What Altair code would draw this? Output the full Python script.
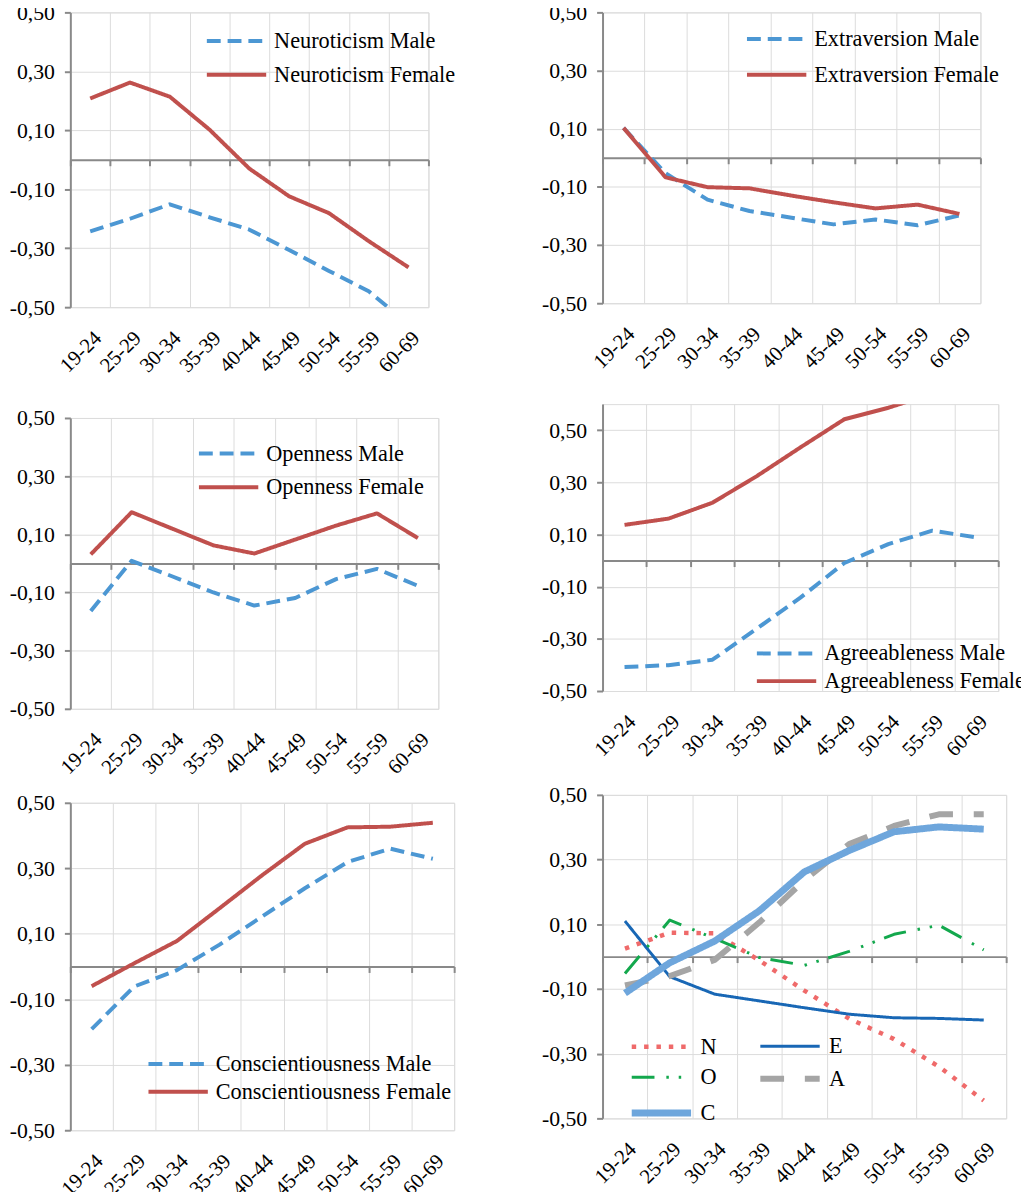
import altair as alt
import pandas as pd

ages = ["19-24", "25-29", "30-34", "35-39", "40-44", "45-49", "50-54", "55-59", "60-69"]

neuro_male = [-0.243, -0.200, -0.151, -0.195, -0.237, -0.306, -0.377, -0.446, -0.558]
neuro_female = [0.208, 0.262, 0.214, 0.102, -0.030, -0.124, -0.181, -0.276, -0.365]
extra_male = [0.103, -0.053, -0.144, -0.183, -0.206, -0.229, -0.212, -0.232, -0.198]
extra_female = [0.103, -0.067, -0.101, -0.105, -0.130, -0.153, -0.174, -0.161, -0.193]
open_male = [-0.164, 0.009, -0.045, -0.100, -0.145, -0.119, -0.054, -0.019, -0.077]
open_female = [0.031, 0.176, 0.119, 0.062, 0.034, 0.082, 0.130, 0.172, 0.087]
agree_male = [-0.408, -0.401, -0.380, -0.262, -0.142, -0.009, 0.063, 0.115, 0.089]
agree_female = [0.137, 0.161, 0.222, 0.323, 0.434, 0.542, 0.586, 0.640, 0.630]
consc_male = [-0.191, -0.061, -0.011, 0.067, 0.153, 0.239, 0.319, 0.360, 0.329]
consc_female = [-0.060, 0.010, 0.078, 0.178, 0.279, 0.375, 0.425, 0.427, 0.439]

all_N = [0.025, 0.074, 0.072, -0.012, -0.105, -0.192, -0.255, -0.340, -0.445]
all_E = [0.110, -0.062, -0.116, -0.137, -0.158, -0.178, -0.189, -0.191, -0.196]
all_O = [-0.052, 0.113, 0.056, -0.003, -0.027, 0.016, 0.069, 0.097, 0.021]
all_A = [-0.089, -0.060, -0.010, 0.106, 0.236, 0.348, 0.404, 0.440, 0.440]
all_C = [-0.113, -0.019, 0.048, 0.142, 0.262, 0.328, 0.386, 0.401, 0.394]

tick_values = [-0.5, -0.3, -0.1, 0.1, 0.3, 0.5]

FONT = "Liberation Serif"
AXIS_GRAY = "#898989"
GRID_GRAY = "#DCDCDC"
MALE = "#4C97D3"
FEMALE = "#C0504D"
MALE_DASH = [14, 7]
SOLID = [1, 0]


def long_df(names, series):
    rows = []
    for name, vals in zip(names, series):
        for a, v in zip(ages, vals):
            rows.append({"age": a, "series": name, "value": v})
    return pd.DataFrame(rows)


def panel(names, series, colors, dashes, width, height, lx, ly, row_pad,
          ymax=0.5, widths=None, columns=1, col_pad=10):
    df = long_df(names, series)
    below = height * 0.5 / (ymax + 0.5)
    legend = alt.Legend(
        title=None, orient="none", legendX=lx, legendY=ly,
        direction="horizontal" if columns > 1 else "vertical",
        symbolType="M-3,0H3", symbolSize=400, symbolStrokeWidth=4,
        labelFont=FONT, labelFontSize=22.5, labelColor="black", labelOffset=26,
        labelLimit=400, rowPadding=row_pad, columns=columns,
        columnPadding=col_pad, padding=0,
    )
    x = alt.X(
        "age:N", sort=ages, title=None, bandPosition=0.5,
        scale=alt.Scale(type="band", paddingInner=0, paddingOuter=0),
        axis=alt.Axis(
            orient="bottom", offset=-below, tickBand="extent",
            grid=True, gridColor=GRID_GRAY, gridWidth=1,
            domainColor=AXIS_GRAY, domainWidth=2,
            ticks=True, tickColor=AXIS_GRAY, tickWidth=2, tickSize=6,
            labelAngle=-45, labelAlign="right", labelBaseline="top",
            labelPadding=below + 20 - 6, labelFont=FONT, labelFontSize=21,
            labelColor="black", labelOverlap=False,
        ),
    )
    y = alt.Y(
        "value:Q", title=None,
        scale=alt.Scale(domain=[-0.5, ymax], nice=False, zero=False),
        axis=alt.Axis(
            values=tick_values,
            labelExpr="(datum.value < 0 ? '-' : '') + replace(format(abs(datum.value), '.2f'), '.', ',')",
            grid=True, gridColor=GRID_GRAY, gridWidth=1,
            domainColor=AXIS_GRAY, domainWidth=2,
            tickColor=AXIS_GRAY, tickWidth=2, tickSize=6,
            labelPadding=10, labelFont=FONT, labelFontSize=22, labelColor="black",
        ),
    )
    enc = dict(
        x=x, y=y,
        color=alt.Color("series:N", scale=alt.Scale(domain=names, range=colors), legend=legend),
        strokeDash=alt.StrokeDash("series:N", scale=alt.Scale(domain=names, range=dashes), legend=legend),
    )
    if widths is not None:
        enc["strokeWidth"] = alt.StrokeWidth(
            "series:N", scale=alt.Scale(type="ordinal", domain=names, range=widths), legend=legend)
        mark = alt.Chart(df).mark_line(clip=True, strokeJoin="round")
    else:
        mark = alt.Chart(df).mark_line(clip=True, strokeWidth=4, strokeJoin="round")
    return mark.encode(**enc).properties(width=width, height=height)


p1 = panel(["Neuroticism Male", "Neuroticism Female"], [neuro_male, neuro_female],
           [MALE, FEMALE], [MALE_DASH, SOLID], 362, 298, 156, 17, 10)
p2 = panel(["Extraversion Male", "Extraversion Female"], [extra_male, extra_female],
           [MALE, FEMALE], [MALE_DASH, SOLID], 382, 294, 164, 15, 12)
p3 = panel(["Openness Male", "Openness Female"], [open_male, open_female],
           [MALE, FEMALE], [MALE_DASH, SOLID], 372, 294, 148, 24, 10)
p4 = panel(["Agreeableness Male", "Agreeableness Female"], [agree_male, agree_female],
           [MALE, FEMALE], [MALE_DASH, SOLID], 400, 290, 174, 240, 4, ymax=0.6)
p5 = panel(["Conscientiousness Male", "Conscientiousness Female"], [consc_male, consc_female],
           [MALE, FEMALE], [MALE_DASH, SOLID], 388, 331, 97, 252, 4)
p6 = panel(["N", "E", "O", "A", "C"], [all_N, all_E, all_O, all_A, all_C],
           ["#EF6A6A", "#1867B5", "#13A84D", "#A5A5A5", "#6EA6DC"],
           [[4.5, 8], SOLID, [23, 12, 2.5, 10, 2.5, 10], [24, 21], SOLID],
           408, 327, 46, 242, 8, widths=[4.5, 3, 3, 6, 7], columns=2, col_pad=31)

ind = dict(color="independent", strokeDash="independent", strokeWidth="independent")

left = alt.vconcat(
    alt.vconcat(p1, p3, spacing=30).resolve_scale(**ind),
    p5, spacing=13,
).resolve_scale(**ind)
right = alt.vconcat(
    alt.vconcat(p2, p4, spacing=31).resolve_scale(**ind),
    p6, spacing=23,
).resolve_scale(**ind)

chart = alt.hconcat(left, right, spacing=84).resolve_scale(**ind).properties(
    padding={"left": 0, "top": -14, "right": -6, "bottom": -14},
    background="white",
).configure_view(stroke=GRID_GRAY, strokeWidth=1)

chart.save("out.html", embed_options={"renderer": "svg", "actions": False})
